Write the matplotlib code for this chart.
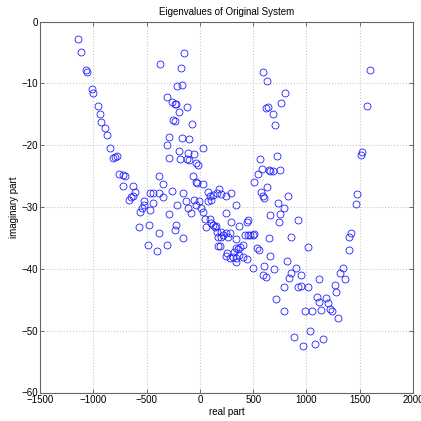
import matplotlib
matplotlib.use("Agg")
import matplotlib.pyplot as plt

# eigenvalues (real part, imaginary part)
left_re = [-1148, -1117, -1071, -1061, -1015, -1005, -952, -937, -925, -894, -869, -844,
           -813, -798, -782, -761, -723, -698, -723, -630, -612, -642, -627, -661,
           -559, -543, -528, -521, -472, -435, -440, -465, -574, -475, -487, -403,
           -379, -379, -379]
left_im = [-2.8, -5.0, -7.8, -8.2, -10.9, -11.6, -13.7, -14.9, -16.2, -17.3, -18.4, -20.4,
           -22.1, -21.9, -21.8, -24.7, -24.8, -25.0, -26.6, -26.6, -27.5, -28.4, -28.2, -28.9,
           -30.8, -30.2, -29.7, -29.1, -27.8, -27.8, -29.4, -30.5, -33.3, -32.9, -36.1, -37.1,
           -25.0, -27.7, -34.2]

upper_re = [-372, -152, -180, -211, -170, -310, -264, -233, -226, -121, -196, -254, -230,
            -77, -286, -168, -102, -310, 25, -193, -115, -53, -289, -186, -124, -99, -37, -16]
upper_im = [-6.8, -5.1, -7.5, -10.4, -10.2, -12.2, -13.0, -13.4, -13.3, -13.8, -14.7, -16.0, -16.1,
            -16.5, -18.6, -18.9, -19.0, -19.9, -20.4, -21.0, -21.3, -21.5, -22.1, -22.3, -22.3, -22.4,
            -22.9, -23.2]

middle_re = [-68, -37, -25, 25, -347, -347, -264, -155, -211, -130, -115, -87, -56, -37, -6, 9, 25,
             77, 93, 109, 77, 124, 161, 180, 202, 242, 295, 335, 242, 47, 93, 109, 124, 140, 149, 62,
             -291, -310, -233, -223, -155, 295, 366, 440, 450, 161, 196, 217, 242, 170, 202, 263, 286,
             419, 450, 472, 496, 512, 645, 335, 170, 186, 254, 242, 279, 317, 335, 357, 379, 403,
             366, 403, 444, 342, 310, 534, 552, 496, 605, 342]
middle_im = [-25.0, -25.9, -26.1, -26.2, -26.2, -28.4, -27.4, -27.7, -29.7, -29.1, -30.2, -31.0, -28.9,
             -29.6, -29.1, -30.2, -30.8, -27.5, -28.3, -28.8, -29.1, -28.0, -27.8, -27.1, -27.9, -28.2,
             -27.7, -29.7, -30.9, -32.0, -32.0, -32.6, -32.9, -33.3, -33.1, -33.3, -31.1, -36.1, -33.8,
             -32.9, -35.0, -32.5, -33.1, -32.4, -32.1, -34.1, -34.1, -34.5, -34.2, -34.8, -34.9, -34.9,
             -34.2, -34.5, -34.5, -34.5, -34.5, -34.3, -35.0, -35.2, -36.3, -36.3, -37.5, -38.0, -38.3,
             -37.2, -36.7, -36.8, -36.4, -36.1, -37.7, -38.1, -38.4, -38.3, -38.1, -36.7, -36.9, -39.8,
             -39.5, -38.9]

right_re = [568, 543, 512, 645, 596, 627, 621, 636, 798, 763, 689, 705, 1601, 1564, 723, 584, 661,
            682, 751, 633, 574, 589, 602, 826, 733, 791, 661, 754, 745, 919, 1521, 1515, 1474, 1465,
            857, 1018, 1422, 1403, 1397, 661, 819]
right_im = [-22.3, -24.6, -25.9, -24.0, -8.2, -9.7, -14.0, -13.9, -11.5, -13.1, -15.0, -16.8, -7.9,
            -13.7, -21.8, -23.8, -24.1, -24.1, -24.0, -26.7, -27.5, -28.2, -28.6, -28.2, -29.4, -30.2,
            -31.3, -31.1, -32.4, -32.1, -21.1, -21.6, -27.9, -29.5, -34.8, -36.5, -34.2, -34.9, -36.9,
            -37.9, -38.7]

lower_re = [698, 589, 621, 900, 854, 838, 947, 791, 925, 947, 1015, 1117, 1341, 1319, 1366, 1266,
            1278, 714, 1101, 1117, 1179, 1204, 1217, 1241, 1139, 987, 1049, 789, 1294, 1033, 882,
            1157, 1077, 968]
lower_im = [-40.0, -41.0, -41.3, -39.9, -40.6, -41.5, -41.0, -42.9, -42.9, -42.7, -43.0, -41.6, -39.9,
            -40.7, -41.6, -42.6, -43.7, -44.8, -44.6, -45.4, -44.7, -45.6, -46.5, -46.9, -46.7, -46.9,
            -46.9, -46.8, -48.0, -50.0, -51.0, -51.3, -52.1, -52.5]

real_part = left_re + upper_re + middle_re + right_re + lower_re
imag_part = left_im + upper_im + middle_im + right_im + lower_im

x_ticks = [-1500, -1000, -500, 0, 500, 1000, 1500, 2000]
y_ticks = [-60, -50, -40, -30, -20, -10, 0]

plt.rcParams['font.family'] = ['Liberation Sans', 'DejaVu Sans']
plt.rcParams['font.size'] = 7

fig = plt.figure(figsize=(4.21, 4.21), dpi=100)
ax = fig.add_axes([40 / 421, 28.5 / 421, 373 / 421, 371 / 421])

ax.plot(real_part, imag_part, 'o', markersize=5, markerfacecolor='none',
        markeredgecolor='#2020ff', markeredgewidth=0.6, linestyle='none')

ax.set_xlim(-1500, 2000)
ax.set_ylim(-60, 0)
ax.set_xticks(x_ticks)
ax.set_yticks(y_ticks)
ax.grid(True, color='#c8c8c8', linestyle=':', linewidth=0.8)
ax.tick_params(direction='in', top=True, right=True, length=3, width=0.6,
               colors='#555555', labelcolor='black', pad=1.5)
for s in ax.spines.values():
    s.set_color('#666666')
    s.set_linewidth(0.8)

ax.set_title('Eigenvalues of Original System', fontsize=7, pad=5)
ax.set_xlabel('real part', labelpad=2)
ax.set_ylabel('imaginary part', labelpad=2)

fig.savefig('out.png', dpi=100)
